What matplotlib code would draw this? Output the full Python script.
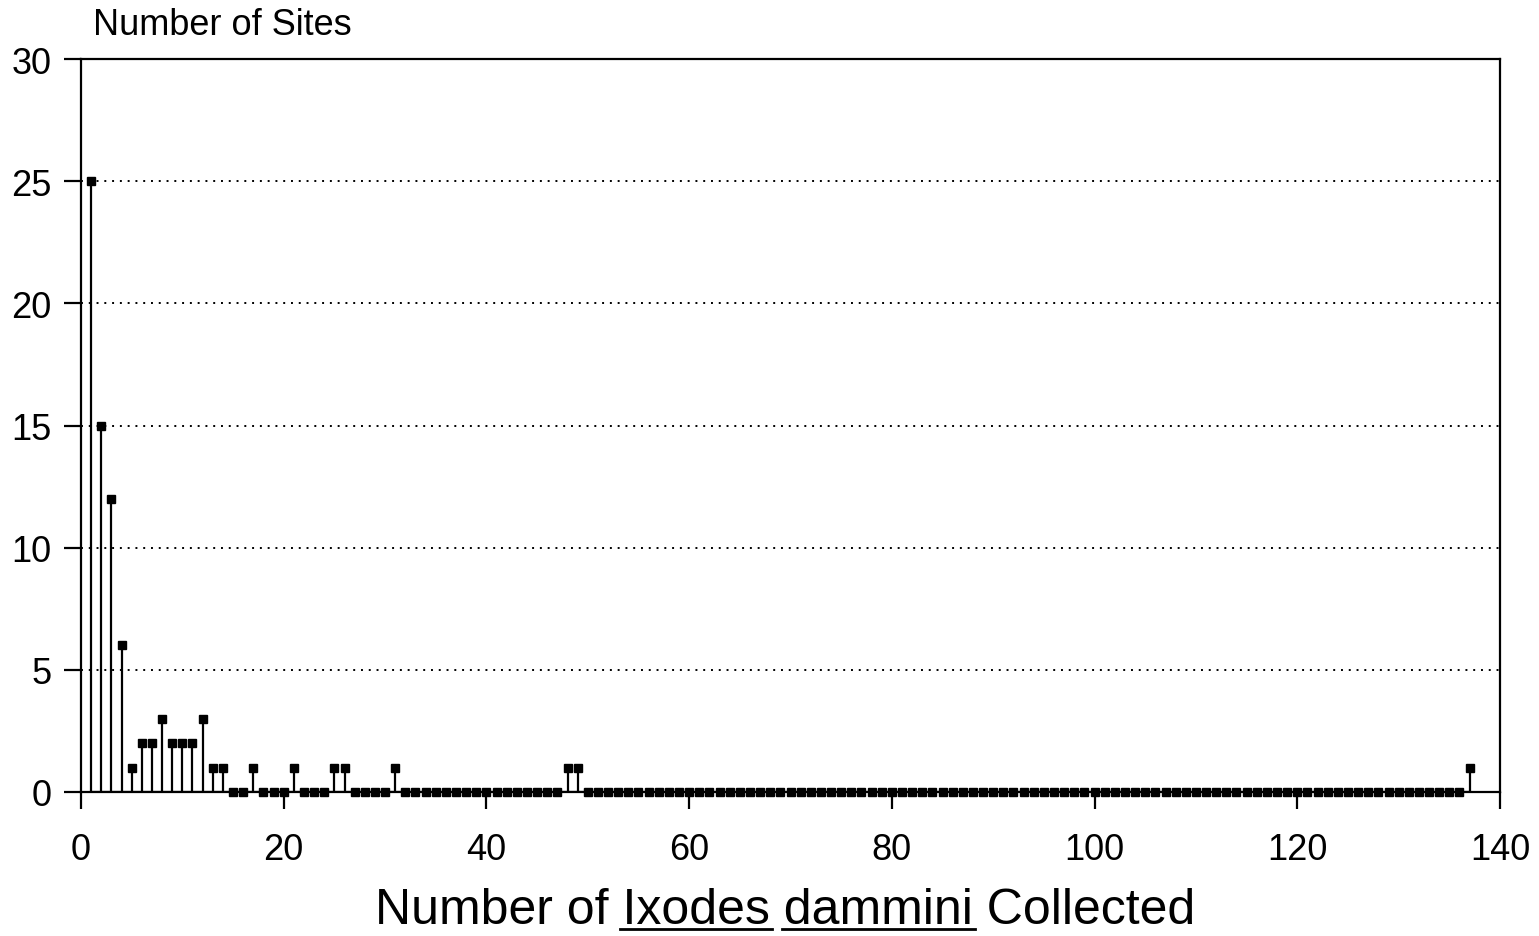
import matplotlib.pyplot as plt
import numpy as np

plt.rcParams['font.family'] = ['Liberation Sans', 'DejaVu Sans']

# Number of ticks collected at a site (1..137)
ticks_collected = np.arange(1, 138)

# Number of sites with that count (zeros everywhere except listed)
site_counts = np.zeros(137, dtype=int)
nonzero_x = [1, 2, 3, 4, 5, 6, 7, 8, 9, 10, 11, 12, 13, 14,
             17, 21, 25, 26, 31, 48, 49, 137]
nonzero_y = [25, 15, 12, 6, 1, 2, 2, 3, 2, 2, 2, 3, 1, 1,
             1, 1, 1, 1, 1, 1, 1, 1]
for xv, yv in zip(nonzero_x, nonzero_y):
    site_counts[xv - 1] = yv

x_ticks = [0, 20, 40, 60, 80, 100, 120, 140]
y_ticks = [0, 5, 10, 15, 20, 25, 30]

fig = plt.figure(figsize=(15.39, 9.37), dpi=100)
ax = fig.add_axes([81 / 1539, 1 - 793 / 937, 1419 / 1539, 733 / 937])

# stems
markerline, stemlines, baseline = ax.stem(ticks_collected, site_counts,
                                          linefmt='k-', markerfmt='ks', basefmt='k-')
stemlines.set_linewidth(1.6)
markerline.set_markersize(5.5)
markerline.set_clip_on(False)
baseline.set_linewidth(1.6)

ax.set_xlim(0, 140)
ax.set_ylim(0, 30)
ax.set_xticks(x_ticks)
ax.set_yticks(y_ticks)

# dotted grid lines
for yv in y_ticks[1:-1]:
    ax.axhline(yv, color='black', linestyle=(0, (1, 3)), linewidth=1.4, zorder=0)

for sp in ax.spines.values():
    sp.set_linewidth(1.6)

ax.tick_params(axis='both', direction='out', length=12, width=1.6,
               labelsize=26)
ax.tick_params(axis='x', pad=17)
ax.tick_params(axis='y', pad=9)

# y label at top left
fig.text(93 / 1539, 1 - 35 / 937, "Number of Sites", fontsize=26,
         ha='left', va='baseline')

# x label with underlined species name
label = "Number of Ixodes dammini Collected"
xlab = fig.text(785 / 1539, 1 - 924 / 937, label, fontsize=36,
                ha='center', va='baseline')

fig.canvas.draw()
renderer = fig.canvas.get_renderer()


def text_width(s):
    t = fig.text(0, 0, s, fontsize=36)
    w = t.get_window_extent(renderer).width
    t.remove()
    return w


bb = xlab.get_window_extent(renderer)
left = bb.x0
for word, prefix in [("Ixodes", "Number of Ixodes"),
                     ("dammini", "Number of Ixodes dammini")]:
    x1 = left + text_width(prefix) + 2
    x0 = x1 - text_width(word) - 4
    y = 1 - 930 / 937
    fig.add_artist(plt.Line2D([x0 / 1539, x1 / 1539], [y, y],
                              color='black', linewidth=2,
                              transform=fig.transFigure))

plt.savefig('out.png', dpi=100)
